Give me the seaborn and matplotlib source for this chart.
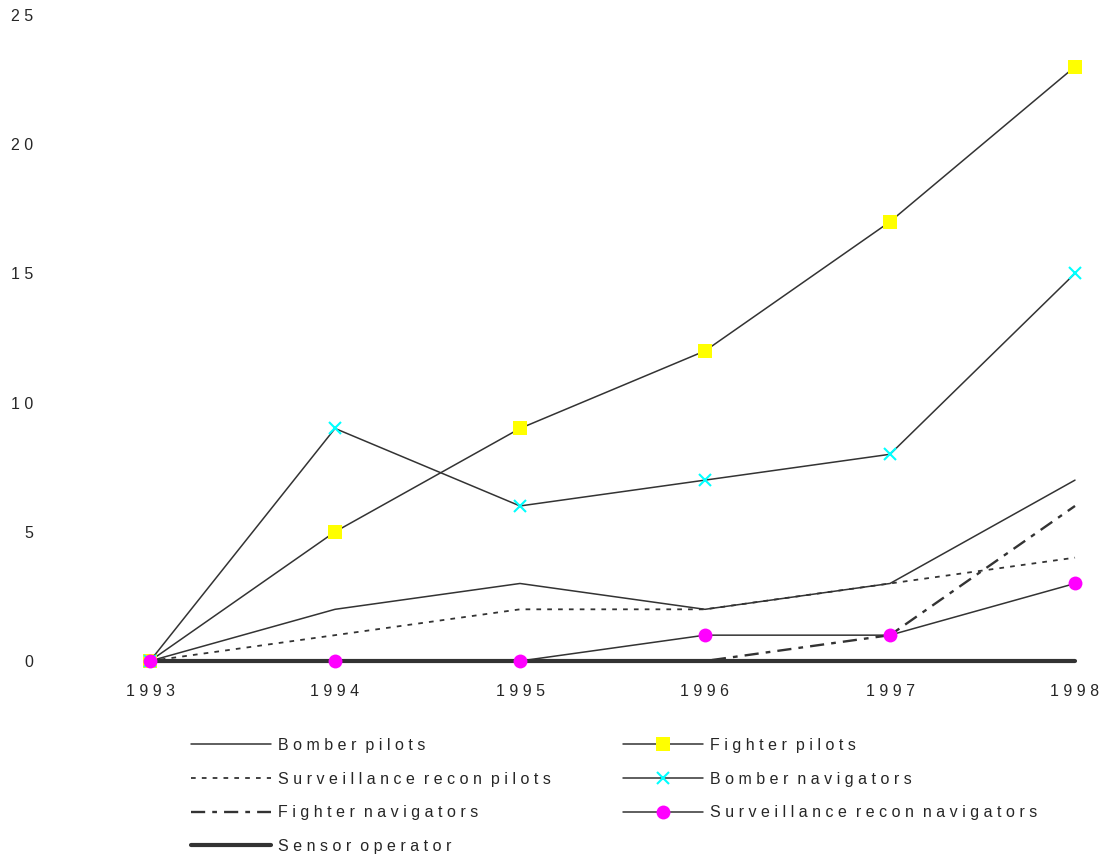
import numpy as np
import pandas as pd
import seaborn as sns
import matplotlib
matplotlib.use("Agg")
import matplotlib.pyplot as plt

# data
years = [1993, 1994, 1995, 1996, 1997, 1998]
bomber_pilots = [0, 2, 3, 2, 3, 7]
fighter_pilots = [0, 5, 9, 12, 17, 23]
surv_recon_pilots = [0, 1, 2, 2, 3, 4]
bomber_navigators = [0, 9, 6, 7, 8, 15]
fighter_navigators = [0, 0, 0, 0, 1, 6]
surv_recon_navigators = [0, 0, 0, 1, 1, 3]
sensor_operator = [0, 0, 0, 0, 0, 0]
y_ticks = [0, 5, 10, 15, 20, 25]


def spaced(s):
    # the original has very loose letter spacing
    return " ".join(s).replace("   ", "  ")


sns.set_style("white")
plt.rcParams['font.family'] = ['Liberation Sans', 'DejaVu Sans']
plt.rcParams['font.size'] = 11.5

fig = plt.figure(figsize=(10.99, 8.55), dpi=100)
ax = fig.add_axes([150 / 1099, 1 - 661 / 855, (1075 - 150) / 1099, (661 - 15) / 855])

dark = '#333333'
series = [
    ("Bomber pilots", bomber_pilots, dict(color=dark, lw=1.1)),
    ("Surveillance recon pilots", surv_recon_pilots, dict(color=dark, lw=1.3, dashes=(2.6, 3.4))),
    ("Fighter navigators", fighter_navigators, dict(color=dark, lw=1.7, dashes=(6, 3, 2, 3))),
    ("Sensor operator", sensor_operator, dict(color=dark, lw=3.0)),
    ("Fighter pilots", fighter_pilots, dict(color=dark, lw=1.1, marker='s', markersize=10,
                                           markerfacecolor='#ffff00', markeredgewidth=0)),
    ("Bomber navigators", bomber_navigators, dict(color=dark, lw=1.1, marker='x', markersize=9,
                                                 markeredgecolor='#00ffff', markeredgewidth=1.5)),
    ("Surveillance recon navigators", surv_recon_navigators, dict(color=dark, lw=1.1, marker='o',
                                                                  markersize=10, markerfacecolor='#ff00ff',
                                                                  markeredgewidth=0)),
]

# draw order: thick baseline first, markers last
draw_order = [3, 0, 1, 2, 4, 5, 6]
for i in draw_order:
    name, vals, kw = series[i]
    sns.lineplot(x=years, y=vals, ax=ax, clip_on=False, label=name, **kw)

ax.set_xlim(1993, 1998)
ax.set_ylim(0, 25)
ax.set_xticks(years)
ax.set_xticklabels([spaced(str(y)) for y in years])
ax.set_yticks(y_ticks)
ax.set_yticklabels([spaced(str(v)) for v in y_ticks])
ax.tick_params(axis='x', length=0, pad=16.5)
ax.tick_params(axis='y', length=0, pad=84)
for sp in ax.spines.values():
    sp.set_visible(False)

handles, labels = ax.get_legend_handles_labels()
lookup = dict(zip(labels, handles))
order = [s[0] for s in series]
ax.legend([lookup[n] for n in order], [spaced(n) for n in order],
          ncol=2, frameon=False, loc='upper left',
          bbox_to_anchor=(191 / 1099, 1 - 738 / 855), bbox_transform=fig.transFigure,
          handlelength=5.0, handletextpad=0.45, labelspacing=1.17, columnspacing=4.5,
          borderaxespad=0, borderpad=0)

fig.savefig("out.png", dpi=100)
